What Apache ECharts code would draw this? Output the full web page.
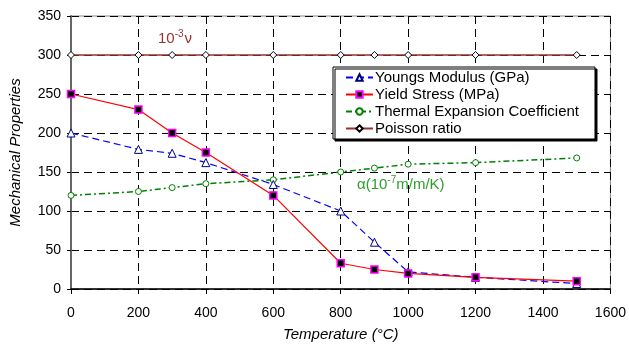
<!DOCTYPE html>
<html lang="en">
<head>
    <meta charset="UTF-8">
    <title>Mechanical Properties</title>
    <script src="https://cdn.jsdelivr.net/npm/echarts@6/dist/echarts.min.js"></script>
</head>
<body style="margin:0;background:#fff;">
<div id="main" style="width: 629px;height: 349px;"></div>
<script type="text/javascript">
    // temperatures (°C)
    var temps = [0, 200, 300, 400, 600, 800, 900, 1000, 1200, 1500];
    var youngs = [200, 179, 174, 162, 134, 100, 60, 22, 15, 7];
    var yieldStress = [250, 230, 200, 175, 120, 33, 25, 20, 15, 10];
    var thermal = [120, 125, 130, 135, 140, 150, 155, 160, 162, 168];
    var poisson = [300, 300, 300, 300, 300, 300, 300, 300, 300, 300];
    var seriesNames = ['Youngs Modulus (GPa)', 'Yield Stress (MPa)', 'Thermal Expansion Coefficient', 'Poisson ratio'];

    function pairs(ys) {
        var out = [];
        for (var i = 0; i < temps.length; i++) {
            out.push([temps[i], ys[i]]);
        }
        return out;
    }

    var font = 'Liberation Sans, Arial, sans-serif';
    var myChart = echarts.init(document.getElementById('main'));
    myChart.setOption({
        animation: false,
        textStyle: {fontFamily: font},
        grid: {left: 68, right: 18, top: 16, bottom: 60, show: true, borderColor: '#888', borderWidth: 1},
        legend: {
            orient: 'vertical',
            left: 333, top: 67,
            padding: [3, 16, 3, 12],
            itemGap: 2,
            itemWidth: 27,
            itemHeight: 8,
            backgroundColor: '#fff',
            borderColor: '#000',
            borderWidth: 1,
            borderRadius: 0,
            shadowColor: '#000',
            shadowOffsetX: 2,
            shadowOffsetY: 2,
            shadowBlur: 0,
            textStyle: {fontSize: 15, color: '#000', fontFamily: font, padding: [0, 0, 0, -3]},
            data: seriesNames
        },
        xAxis: {
            type: 'value',
            min: 0, max: 1600, interval: 200,
            name: 'Temperature (°C)',
            nameLocation: 'middle',
            nameGap: 38,
            nameTextStyle: {fontStyle: 'italic', fontSize: 15, color: '#000'},
            axisLine: {lineStyle: {color: '#000', width: 1.5}},
            axisTick: {show: true, length: 5, lineStyle: {color: '#000'}},
            axisLabel: {fontSize: 14, color: '#000', margin: 17, formatter: function (v) { return String(v); }},
            splitLine: {show: true, lineStyle: {color: '#000', type: [8, 5], width: 1}}
        },
        yAxis: {
            type: 'value',
            min: 0, max: 350, interval: 50,
            name: 'Mechanical Properties',
            nameLocation: 'middle',
            nameGap: 48,
            nameTextStyle: {fontStyle: 'italic', fontSize: 15, color: '#000'},
            axisLine: {show: true, lineStyle: {color: '#666', width: 2}},
            axisTick: {show: true, length: 4, lineStyle: {color: '#000'}},
            axisLabel: {fontSize: 14, color: '#000', margin: 10},
            splitLine: {show: true, lineStyle: {color: '#000', type: [8, 5], width: 1}}
        },
        series: [{
            name: seriesNames[0],
            type: 'line',
            data: pairs(youngs),
            symbol: 'triangle',
            symbolSize: 8,
            itemStyle: {color: '#fff', borderColor: '#000080', borderWidth: 1},
            lineStyle: {color: '#0000ff', type: [7, 4], width: 1.2},
            z: 3
        }, {
            name: seriesNames[1],
            type: 'line',
            data: pairs(yieldStress),
            symbol: 'rect',
            symbolSize: 7,
            itemStyle: {color: '#000', borderColor: '#ff00ff', borderWidth: 1.5},
            lineStyle: {color: '#ff0000', width: 1.2},
            z: 4
        }, {
            name: seriesNames[2],
            type: 'line',
            data: pairs(thermal),
            symbol: 'circle',
            symbolSize: 6,
            itemStyle: {color: '#fff', borderColor: '#008000', borderWidth: 1},
            lineStyle: {color: '#008000', type: [6, 3, 2, 3], width: 1.5},
            z: 2
        }, {
            name: seriesNames[3],
            type: 'line',
            data: pairs(poisson),
            symbol: 'diamond',
            symbolSize: 7,
            itemStyle: {color: '#fff', borderColor: '#000', borderWidth: 1},
            lineStyle: {color: '#993333', width: 1.5},
            z: 2
        }],
        graphic: [{
            type: 'text',
            left: 158, top: 29,
            style: {
                text: '{b|10}{s|-3}{b|ν}',
                rich: {
                    b: {fontSize: 15, fill: '#993333', fontFamily: font},
                    s: {fontSize: 10, fill: '#993333', fontFamily: font, padding: [0, 1, 9, 0]}
                }
            }
        }, {
            type: 'text',
            left: 357, top: 175,
            style: {
                text: '{b|α(10}{s|-7}{b|m/m/K)}',
                rich: {
                    b: {fontSize: 15, fill: '#2ca02c', fontFamily: font},
                    s: {fontSize: 10, fill: '#2ca02c', fontFamily: font, padding: [0, 0, 9, 0]}
                }
            }
        }]
    });
</script>
</body>
</html>
